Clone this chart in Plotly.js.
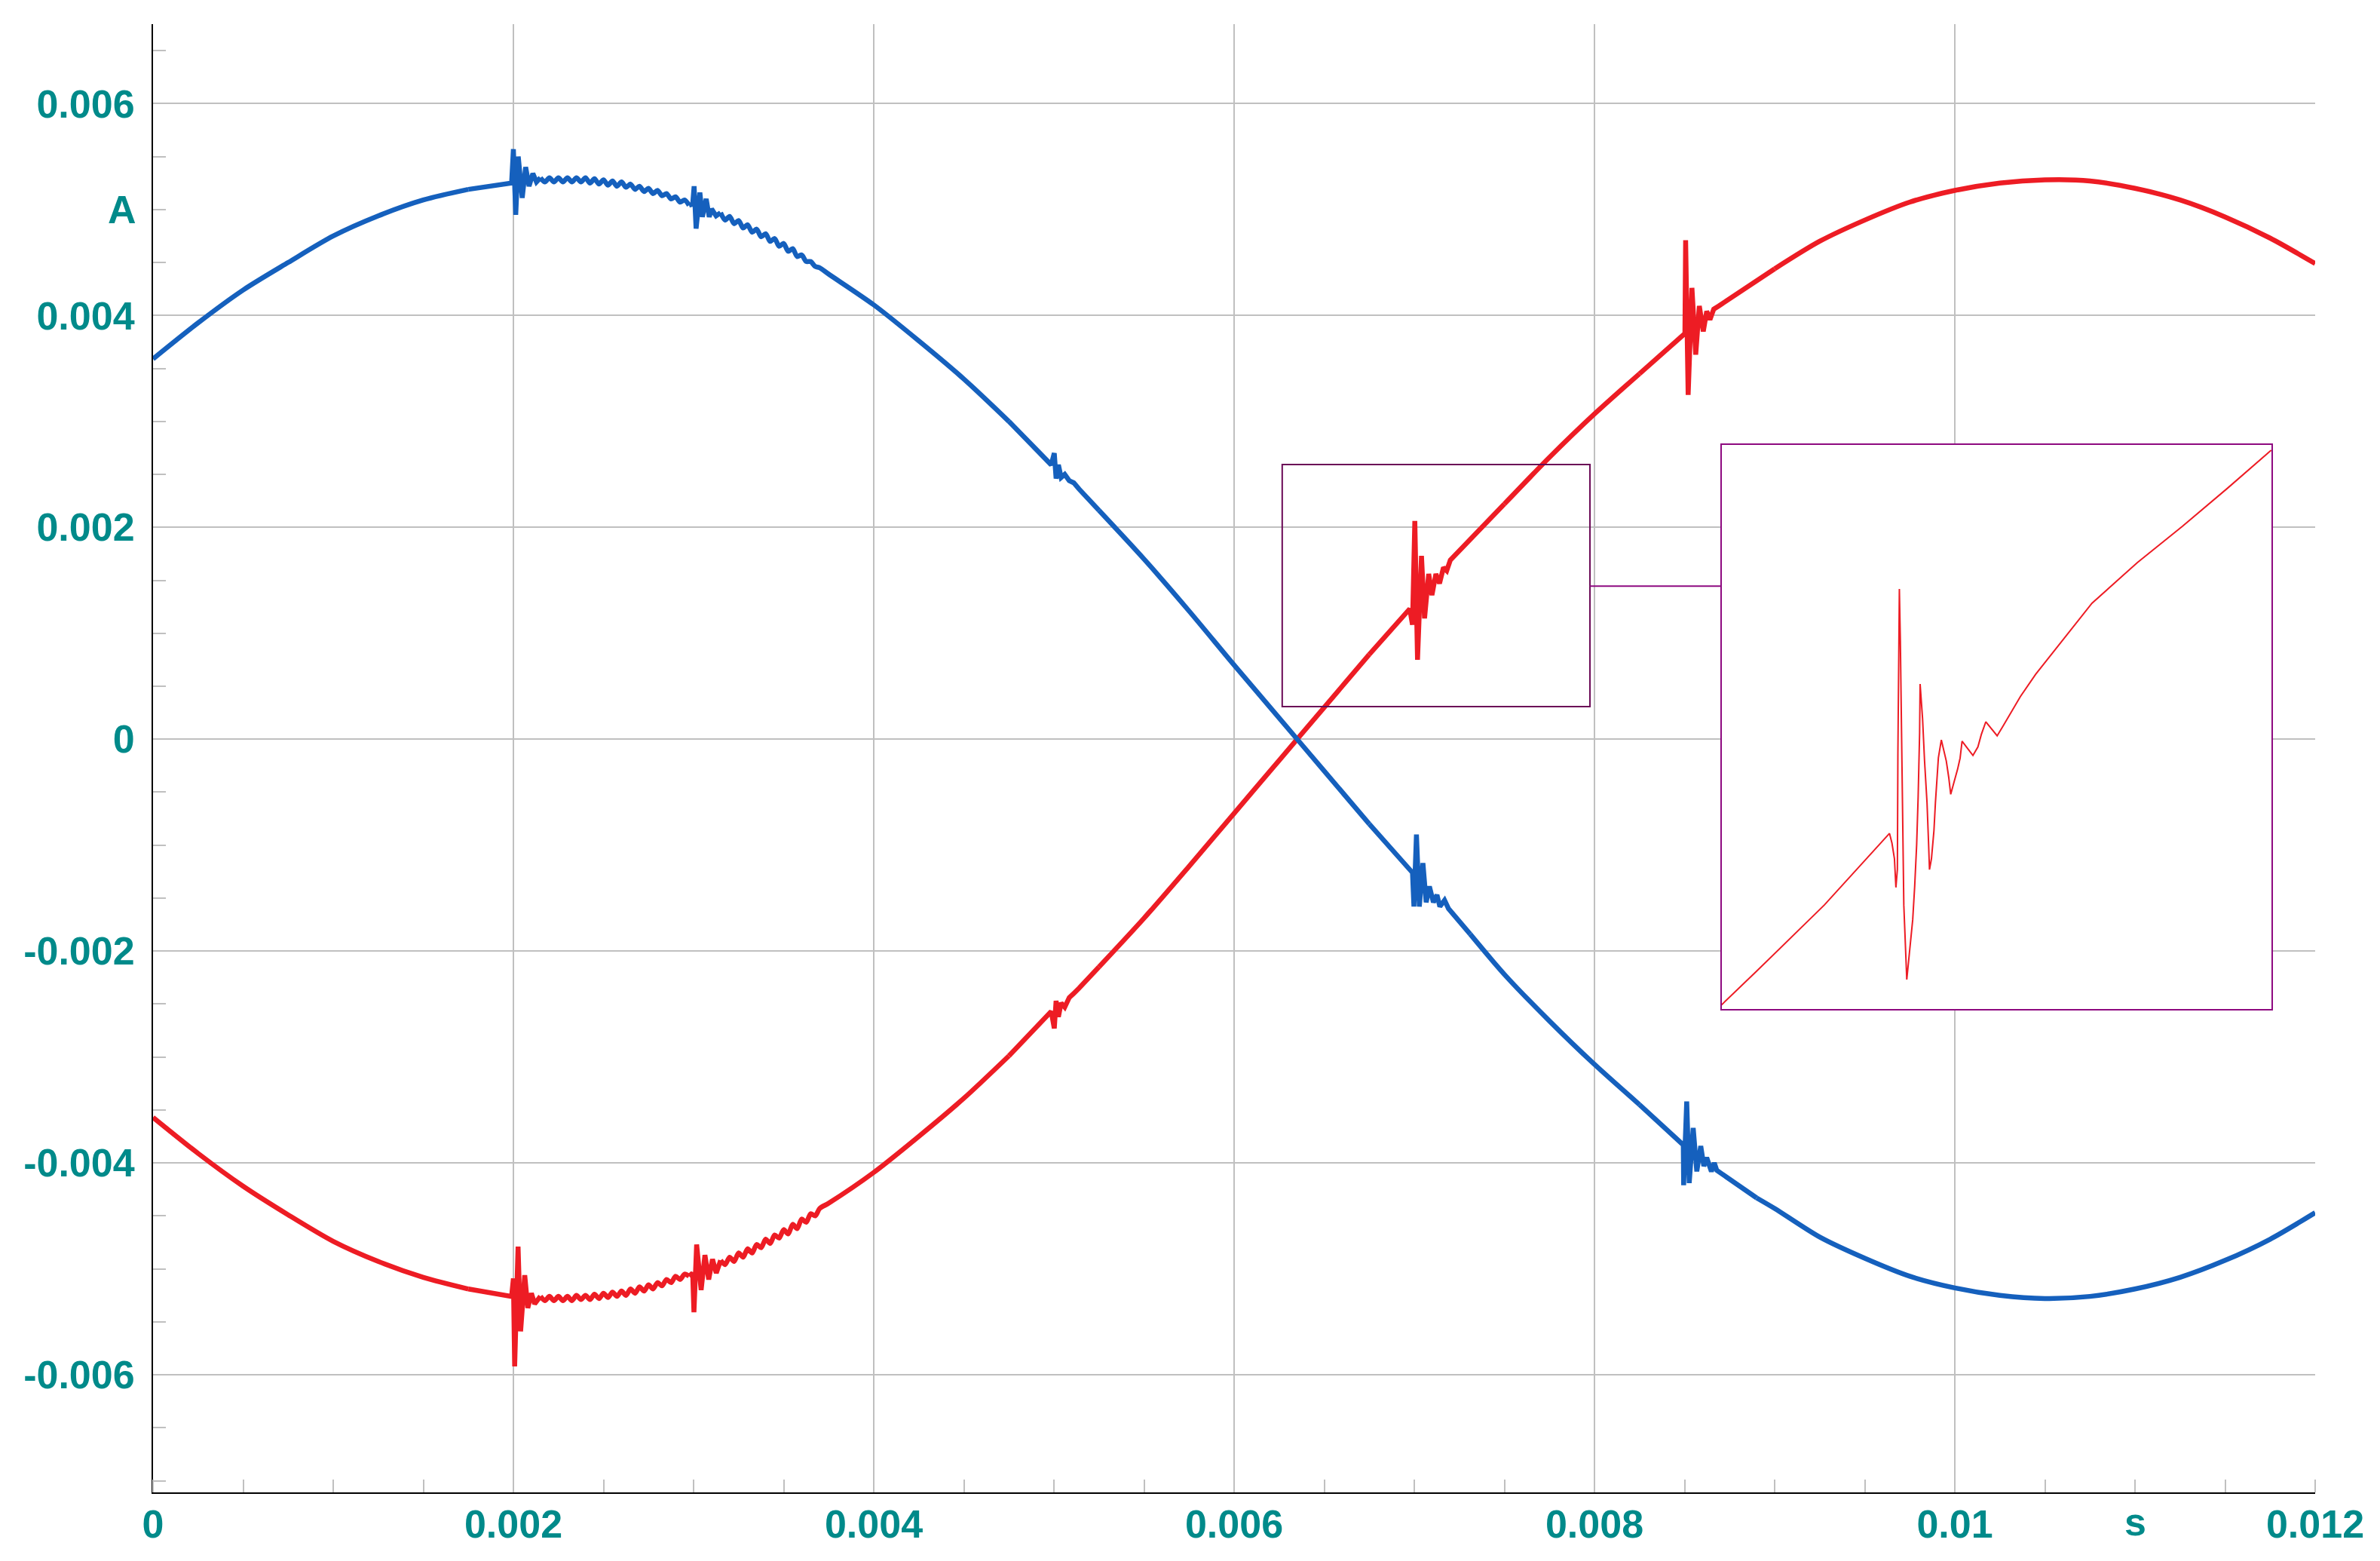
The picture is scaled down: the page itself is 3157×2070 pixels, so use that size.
<!DOCTYPE html>
<html>
<head>
<meta charset="utf-8">
<script src="https://cdn.plot.ly/plotly-3.0.1.min.js"></script>
<style>
html,body{margin:0;padding:0;background:#ffffff;}
#chart{width:3157px;height:2070px;}
</style>
</head>
<body>
<div id="chart"></div>
<script>
// ---------- data (time in s, current in A) ----------
var xTickVals = [0, 0.002, 0.004, 0.006, 0.008, 0.01, 0.012];
var xTickText = ['0', '0.002', '0.004', '0.006', '0.008', '0.01', '0.012'];
var yTickVals = [-0.006, -0.004, -0.002, 0, 0.002, 0.004, 0.006];
var yTickText = ['-0.006', '-0.004', '-0.002', '0', '0.002', '0.004', '0.006'];
var xUnit = 's', yUnit = 'A';

var bluePoints = [
[0,0.00359],[0.00025,0.00393],[0.0005,0.00424],[0.00075,0.0045],[0.001,0.00475],[0.00125,0.00494],
[0.0015,0.00509],[0.00175,0.00519],[0.00199,0.00525],
[0.002,0.00557],[0.002013,0.00495],[0.002027,0.0055],[0.002049,0.00511],[0.002068,0.0054],[0.002087,0.00522],
[0.002108,0.00534],[0.002128,0.00526],
[0.00215,0.0053],[0.002175,0.00526],[0.0022,0.0053],[0.002225,0.00526],[0.00225,0.0053],[0.002275,0.00526],
[0.0023,0.0053],[0.002325,0.00526],[0.00235,0.0053],[0.002375,0.00526],[0.0024,0.0053],[0.002425,0.00525],
[0.00245,0.00529],[0.002475,0.00524],[0.0025,0.00528],[0.002525,0.00523],[0.00255,0.00527],[0.002575,0.00522],
[0.0026,0.00526],[0.002625,0.00521],[0.00265,0.00524],[0.002675,0.00519],[0.0027,0.00522],[0.002725,0.00517],
[0.00275,0.0052],[0.002775,0.00515],[0.0028,0.00518],[0.002825,0.00513],[0.00285,0.00515],[0.002875,0.0051],
[0.0029,0.00512],[0.002925,0.00507],[0.00295,0.00509],[0.002975,0.00504],[0.002995,0.00505],
[0.003003,0.00522],[0.003014,0.00482],[0.003035,0.00516],[0.003049,0.00493],[0.00307,0.0051],[0.003087,0.00493],
[0.0031,0.005005],[0.003125,0.00494],[0.00315,0.00497],[0.003175,0.0049],[0.0032,0.004935],[0.003225,0.004866],
[0.00325,0.004896],[0.003275,0.004826],[0.0033,0.004856],[0.003325,0.004786],[0.00335,0.004815],[0.003375,0.004743],
[0.0034,0.004771],[0.003425,0.004699],[0.00345,0.004726],[0.003475,0.004653],[0.0035,0.00468],[0.003525,0.004606],
[0.00355,0.004631],[0.003575,0.004556],[0.0036,0.004571],[0.003625,0.00451],[0.00365,0.004509],[0.003675,0.004463],
[0.0037,0.00445],[0.00375,0.00439],[0.004,0.0041],[0.00425,0.00376],[0.0045,0.0034],[0.00475,0.003],
[0.004985,0.00259],
[0.005002,0.0027],[0.005012,0.00246],[0.005025,0.00259],[0.00504,0.00247],[0.00506,0.0025],[0.005085,0.00244],
[0.00511,0.00242],[0.00514,0.00236],
[0.00525,0.00216],[0.0055,0.0017],[0.00575,0.00121],[0.006,0.0007],[0.00625,0.0002],[0.0065,-0.0003],
[0.00675,-0.0008],[0.00699,-0.00126],
[0.006998,-0.00158],[0.007012,-0.0009],[0.007028,-0.00158],[0.007048,-0.00117],[0.007066,-0.00154],
[0.007084,-0.00139],[0.007106,-0.00154],[0.007126,-0.00147],[0.007142,-0.00158],[0.007168,-0.00152],
[0.00719,-0.0016],[0.00731,-0.00184],
[0.0075,-0.00222],[0.00775,-0.00266],[0.008,-0.00307],[0.00825,-0.00345],[0.008493,-0.00383],
[0.008495,-0.00421],[0.008512,-0.00342],[0.008526,-0.00419],[0.008548,-0.00367],[0.008568,-0.00408],
[0.00859,-0.00384],[0.008607,-0.00403],[0.008623,-0.00395],[0.008649,-0.00408],[0.008665,-0.004],
[0.008679,-0.00407],[0.0089,-0.00433],
[0.009,-0.00443],[0.00925,-0.0047],[0.0095,-0.0049],[0.00975,-0.00507],[0.01,-0.00518],[0.01025,-0.00525],
[0.0105,-0.00528],[0.01075,-0.00526],[0.011,-0.00519],[0.01125,-0.00508],[0.0115,-0.00492],[0.01175,-0.00472],
[0.012,-0.00447]
];

var redPoints = [
[0,-0.00357],[0.00025,-0.00391],[0.0005,-0.00422],[0.00075,-0.00449],[0.001,-0.00474],[0.00125,-0.00493],
[0.0015,-0.00508],[0.00175,-0.00519],[0.00199,-0.00526],
[0.002,-0.00509],[0.002007,-0.00592],[0.002026,-0.00479],[0.00204,-0.00559],[0.002063,-0.00506],
[0.00208,-0.00537],[0.0021,-0.00523],[0.002118,-0.00533],
[0.00215,-0.00526],[0.002175,-0.0053],[0.0022,-0.00526],[0.002225,-0.0053],[0.00225,-0.00526],[0.002275,-0.0053],
[0.0023,-0.00526],[0.002325,-0.0053],[0.00235,-0.00525],[0.002375,-0.00529],[0.0024,-0.00525],[0.002425,-0.00529],
[0.00245,-0.00524],[0.002475,-0.00528],[0.0025,-0.00523],[0.002525,-0.00527],[0.00255,-0.00522],[0.002575,-0.00526],
[0.0026,-0.00521],[0.002625,-0.00525],[0.00265,-0.00519],[0.002675,-0.00523],[0.0027,-0.00517],[0.002725,-0.00521],
[0.00275,-0.00515],[0.002775,-0.00519],[0.0028,-0.00513],[0.002825,-0.00516],[0.00285,-0.0051],[0.002875,-0.00513],
[0.0029,-0.00507],[0.002925,-0.0051],[0.00295,-0.00505],[0.002975,-0.00507],[0.002995,-0.00504],
[0.003002,-0.00541],[0.003017,-0.00477],[0.003042,-0.0052],[0.003063,-0.00487],[0.003084,-0.0051],
[0.003105,-0.00491],[0.003126,-0.00504],
[0.00315,-0.00492],[0.003175,-0.00496],[0.0032,-0.00489],[0.003225,-0.00493],[0.00325,-0.00485],[0.003275,-0.00489],
[0.0033,-0.00481],[0.003325,-0.00485],[0.00335,-0.00477],[0.003375,-0.0048],[0.0034,-0.00472],[0.003425,-0.00476],
[0.00345,-0.00468],[0.003475,-0.00471],[0.0035,-0.00463],[0.003525,-0.00467],[0.00355,-0.00458],[0.003575,-0.00462],
[0.0036,-0.00453],[0.003625,-0.00456],[0.00365,-0.00448],[0.003675,-0.0045],[0.0037,-0.00443],
[0.00375,-0.00438],[0.004,-0.00409],[0.00425,-0.00375],[0.0045,-0.00339],[0.00475,-0.00299],[0.004985,-0.00257],
[0.005002,-0.00273],[0.005012,-0.00247],[0.005025,-0.00262],[0.00504,-0.00249],[0.00506,-0.00253],
[0.005085,-0.00244],[0.00511,-0.0024],[0.00514,-0.00235],
[0.00525,-0.00215],[0.0055,-0.00169],[0.00575,-0.0012],[0.006,-0.0007],[0.00625,-0.0002],[0.0065,0.0003],
[0.00675,0.0008],[0.006975,0.00123],
[0.00699,0.00108],[0.007003,0.00206],[0.007018,0.00075],[0.00704,0.00173],[0.007057,0.00114],[0.00708,0.00156],
[0.007098,0.00136],[0.00712,0.00156],[0.00714,0.00147],[0.007162,0.00162],[0.00718,0.00159],[0.0072,0.00169],
[0.0075,0.00222],[0.00775,0.00266],[0.008,0.00307],[0.00825,0.00345],[0.008502,0.00383],
[0.008506,0.00471],[0.00852,0.00325],[0.008541,0.00426],[0.008562,0.00363],[0.008582,0.00409],
[0.008604,0.00385],[0.008623,0.00404],[0.008641,0.00396],[0.008662,0.00406],[0.00869,0.00409],
[0.009,0.00444],[0.00925,0.0047],[0.0095,0.0049],[0.00975,0.00507],[0.01,0.00518],[0.01025,0.00525],
[0.0105,0.00528],[0.01075,0.00527],[0.011,0.0052],[0.01125,0.00509],[0.0115,0.00493],[0.01175,0.00473],
[0.012,0.00449]
];

// switching transients (time windows) drawn with straight segments
var burstWindows = [
[0.00199, 0.00213], [0.002995, 0.003126], [0.004985, 0.00514],
[0.006975, 0.0072], [0.008493, 0.00869]
];

// magnified red disturbance near t = 0.007 s, drawn in the inset
var insetPoints = [
[0.006635,0.000575],[0.006707,0.000705],[0.006844,0.000957],[0.006976,0.00123],[0.006981,0.001193],
[0.006986,0.001134],[0.006989,0.001024],[0.006992,0.001093],[0.006993,0.001532],[0.006996,0.002161],
[0.006998,0.001963],[0.007001,0.001532],[0.007005,0.000957],[0.007011,0.000673],[0.007017,0.000784],
[0.007023,0.000901],[0.007027,0.001028],[0.007031,0.001187],[0.007034,0.001368],[0.007037,0.001613],
[0.007038,0.001799],[0.00704,0.00175],[0.007043,0.001666],[0.007047,0.001506],[0.007052,0.001347],
[0.007055,0.001199],[0.007057,0.001092],[0.007061,0.001134],[0.007066,0.00124],[0.007069,0.001347],
[0.007072,0.001443],[0.007075,0.001518],[0.007081,0.001586],[0.007086,0.001549],[0.007091,0.001506],
[0.007096,0.001443],[0.0071,0.001379],[0.007106,0.001421],[0.007114,0.001475],[0.007119,0.001517],
[0.007123,0.001581],[0.007134,0.001554],[0.007145,0.001527],[0.007155,0.001559],[0.007162,0.001607],
[0.007171,0.001655],[0.007183,0.001629],[0.007194,0.001602],[0.007206,0.001639],[0.007221,0.001687],
[0.007241,0.001751],[0.007272,0.001836],[0.007386,0.002107],[0.007478,0.002262],[0.007569,0.0024],
[0.007661,0.002546],[0.007749,0.00269]
];

// ---------- layout constants ----------
var xRange = [0, 0.012];
var yRange = [-0.00711, 0.00675];
var insetXRange = [0.006635, 0.007751];
var insetYRange = [0.000558, 0.002713];
var insetDomX = [0.72524, 0.98013];
var insetDomY = [0.32871, 0.71392];
var zoomBoxT = [0.006267, 0.007975];
var zoomBoxI = [0.000308, 0.002593];
var connectorI = 0.001445;

var teal = '#008a8a';
var gridCol = '#c0c0c0';
var fontFam = '"Liberation Sans", Arial, sans-serif';
var tickFont = {family: fontFam, size: 52, color: teal, weight: 'bold'};

function inBurst(t) {
  for (var i = 0; i < burstWindows.length; i++) {
    if (t >= burstWindows[i][0] - 1e-9 && t <= burstWindows[i][1] + 1e-9) return true;
  }
  return false;
}
// split a series into smooth (spline) and transient (linear) pieces sharing end points
function segments(points) {
  var segs = [], cur = null;
  points.forEach(function (p) {
    var b = inBurst(p[0]);
    if (!cur) { cur = {burst: b, pts: [p]}; return; }
    if (b === cur.burst) { cur.pts.push(p); return; }
    if (b) { segs.push(cur); cur = {burst: true, pts: [cur.pts[cur.pts.length - 1], p]}; }
    else { cur.pts.push(p); segs.push(cur); cur = {burst: false, pts: [p]}; }
  });
  if (cur) segs.push(cur);
  return segs;
}

var traces = [];
function addSeries(points, color) {
  segments(points).forEach(function (s) {
    traces.push({
      x: s.pts.map(function (p) { return p[0]; }),
      y: s.pts.map(function (p) { return p[1]; }),
      type: 'scatter', mode: 'lines', xaxis: 'x', yaxis: 'y', hoverinfo: 'skip',
      line: s.burst ? {color: color, width: 6.5, shape: 'linear'}
                    : {color: color, width: 6.5, shape: 'spline', smoothing: 0.8}
    });
  });
}
addSeries(redPoints, '#ed1c24');
addSeries(bluePoints, '#1560bd');
traces.push({
  x: insetPoints.map(function (p) { return p[0]; }),
  y: insetPoints.map(function (p) { return p[1]; }),
  type: 'scatter', mode: 'lines', line: {color: '#ed1c24', width: 2},
  xaxis: 'x2', yaxis: 'y2', hoverinfo: 'skip'
});

var insetLeftT = xRange[0] + insetDomX[0] * (xRange[1] - xRange[0]);

var layout = {
  width: 3157, height: 2070,
  margin: {l: 203, r: 86, t: 32, b: 91, pad: 0},
  paper_bgcolor: '#ffffff', plot_bgcolor: '#ffffff',
  showlegend: false,
  xaxis: {
    range: xRange, tickmode: 'array', tickvals: xTickVals, ticktext: xTickText,
    showgrid: true, gridcolor: gridCol, gridwidth: 2, zeroline: false,
    showline: true, linecolor: '#000000', linewidth: 2, mirror: false,
    ticks: '', tickfont: tickFont, ticklabelstandoff: -4,
    minor: {tickmode: 'linear', tick0: 0, dtick: 0.0005, ticks: 'inside', ticklen: 17,
            tickcolor: gridCol, tickwidth: 2, showgrid: false},
    fixedrange: true
  },
  yaxis: {
    range: yRange, tickmode: 'array', tickvals: yTickVals, ticktext: yTickText,
    showgrid: true, gridcolor: gridCol, gridwidth: 2, zeroline: false,
    showline: true, linecolor: '#000000', linewidth: 2, mirror: false,
    ticks: '', tickfont: tickFont, ticklabelstandoff: 12,
    minor: {tickmode: 'linear', tick0: 0, dtick: 0.0005, ticks: 'inside', ticklen: 17,
            tickcolor: gridCol, tickwidth: 2, showgrid: false},
    fixedrange: true
  },
  xaxis2: {domain: insetDomX, range: insetXRange, anchor: 'y2', visible: false, fixedrange: true},
  yaxis2: {domain: insetDomY, range: insetYRange, anchor: 'x2', visible: false, fixedrange: true},
  shapes: [
    {type: 'rect', xref: 'x', yref: 'y', x0: zoomBoxT[0], x1: zoomBoxT[1], y0: zoomBoxI[0], y1: zoomBoxI[1],
     line: {color: '#6b0a57', width: 2}, fillcolor: 'rgba(0,0,0,0)'},
    {type: 'line', xref: 'x', yref: 'y', x0: zoomBoxT[1], x1: insetLeftT, y0: connectorI, y1: connectorI,
     line: {color: '#8e0a80', width: 2}},
    {type: 'rect', xref: 'x2 domain', yref: 'y2 domain', x0: 0, x1: 1, y0: 0, y1: 1,
     line: {color: '#8e0a80', width: 2}, fillcolor: 'rgba(0,0,0,0)'}
  ],
  annotations: [
    {text: yUnit, xref: 'paper', x: 0, xanchor: 'right', xshift: -20, yref: 'y', y: 0.005, yanchor: 'middle',
     showarrow: false, font: tickFont},
    {text: xUnit, xref: 'x', x: 0.011, xanchor: 'center', yref: 'paper', y: 0, yanchor: 'top', yshift: -8,
     showarrow: false, font: tickFont}
  ]
};

Plotly.newPlot('chart', traces, layout, {staticPlot: true, displayModeBar: false});
</script>
</body>
</html>
